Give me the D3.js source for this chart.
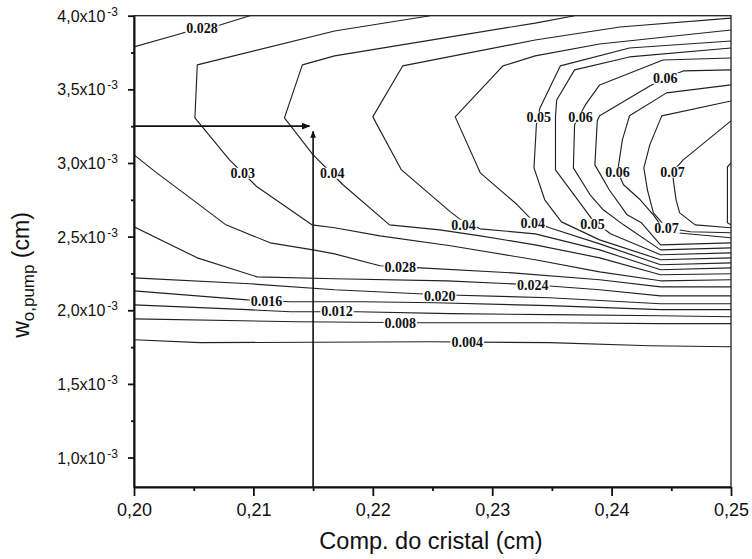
<!DOCTYPE html>
<html><head><meta charset="utf-8">
<script src="https://cdn.jsdelivr.net/npm/d3@7"></script>
<style>body{margin:0;background:#fff}</style>
</head><body>
<svg id="chart" width="752" height="559"></svg>
<script>
// x: crystal length (cm); y: w0,pump in units of 1e-3 cm
const xTicks = [0.20, 0.21, 0.22, 0.23, 0.24, 0.25];
const xTickLabels = ["0,20", "0,21", "0,22", "0,23", "0,24", "0,25"];
const xMinorTicks = [0.205, 0.215, 0.225, 0.235, 0.245];
const yTicks = [1.0, 1.5, 2.0, 2.5, 3.0, 3.5, 4.0];
const yTickLabels = ["1,0", "1,5", "2,0", "2,5", "3,0", "3,5", "4,0"];
const yMinorTicks = [1.25, 1.75, 2.25, 2.75, 3.25, 3.75];

// contour lines, level -> polyline [x, y]
const c004 = [[0.2000,1.800],[0.2055,1.780],[0.2248,1.786],[0.2348,1.780],[0.2432,1.759],[0.2500,1.752]];
const c008 = [[0.2000,1.942],[0.2137,1.922],[0.2240,1.915],[0.2348,1.915],[0.2441,1.909],[0.2500,1.909]];
const c012 = [[0.2000,2.037],[0.2095,2.004],[0.2131,1.990],[0.2187,1.990],[0.2265,1.977],[0.2348,1.970],[0.2441,1.963],[0.2500,1.956]];
const c016 = [[0.2000,2.132],[0.2095,2.071],[0.2131,2.058],[0.2192,2.058],[0.2252,2.051],[0.2348,2.031],[0.2441,2.004],[0.2500,2.004]];
const c020 = [[0.2000,2.220],[0.2097,2.180],[0.2168,2.139],[0.2256,2.105],[0.2348,2.085],[0.2441,2.044],[0.2500,2.044]];
const c024 = [[0.2000,2.567],[0.2053,2.356],[0.2103,2.227],[0.2168,2.214],[0.2262,2.200],[0.2334,2.173],[0.2390,2.139],[0.2441,2.098],[0.2500,2.098]];
const c028a = [[0.2000,3.055],[0.2019,2.933],[0.2047,2.763],[0.2077,2.580],[0.2114,2.458],[0.2150,2.410],[0.2168,2.383],[0.2206,2.302],[0.2240,2.288],[0.2317,2.254],[0.2390,2.207],[0.2441,2.159],[0.2500,2.159]];
const c028b = [[0.2000,3.788],[0.2041,3.883],[0.2072,3.937],[0.2097,4.000]];
const c032 = [[0.2248,4.000],[0.2168,3.896],[0.2053,3.666],[0.2051,3.306],[0.2080,3.021],[0.2103,2.838],[0.2149,2.580],[0.2168,2.560],[0.2206,2.505],[0.2265,2.438],[0.2336,2.343],[0.2390,2.261],[0.2441,2.200],[0.2500,2.207]];
const c036 = [[0.2369,4.000],[0.2336,3.950],[0.2168,3.727],[0.2141,3.666],[0.2126,3.306],[0.2150,3.055],[0.2175,2.852],[0.2214,2.580],[0.2256,2.546],[0.2290,2.505],[0.2336,2.444],[0.2390,2.356],[0.2441,2.241],[0.2500,2.248]];
const c040 = [[0.2500,3.984],[0.2407,3.923],[0.2336,3.835],[0.2225,3.659],[0.2200,3.313],[0.2224,2.953],[0.2265,2.668],[0.2276,2.600],[0.2290,2.553],[0.2336,2.519],[0.2390,2.410],[0.2441,2.275],[0.2500,2.288]];
const c044 = [[0.2500,3.903],[0.2390,3.808],[0.2336,3.727],[0.2309,3.659],[0.2269,3.313],[0.2290,2.933],[0.2321,2.716],[0.2334,2.607],[0.2348,2.560],[0.2390,2.451],[0.2441,2.309],[0.2500,2.322]];
const c048 = [[0.2500,3.828],[0.2415,3.781],[0.2357,3.659],[0.2340,3.374],[0.2337,3.258],[0.2335,2.967],[0.2344,2.750],[0.2358,2.600],[0.2390,2.478],[0.2441,2.343],[0.2500,2.356]];
const c052 = [[0.2500,3.781],[0.2415,3.720],[0.2369,3.632],[0.2354,3.428],[0.2353,3.313],[0.2353,2.953],[0.2376,2.702],[0.2384,2.614],[0.2399,2.519],[0.2441,2.377],[0.2500,2.390]];
const c056 = [[0.2500,3.713],[0.2443,3.699],[0.2390,3.530],[0.2378,3.394],[0.2369,3.260],[0.2368,2.967],[0.2382,2.784],[0.2393,2.682],[0.2410,2.580],[0.2441,2.410],[0.2500,2.424]];
const c060 = [[0.2500,3.632],[0.2460,3.625],[0.2445,3.577],[0.2432,3.523],[0.2390,3.320],[0.2388,3.286],[0.2386,2.987],[0.2398,2.818],[0.2413,2.648],[0.2425,2.594],[0.2441,2.444],[0.2500,2.458]];
const c064 = [[0.2500,3.530],[0.2446,3.476],[0.2415,3.320],[0.2409,3.157],[0.2405,2.940],[0.2410,2.852],[0.2424,2.750],[0.2435,2.648],[0.2445,2.533],[0.2500,2.492]];
const c068 = [[0.2500,3.421],[0.2442,3.320],[0.2432,3.123],[0.2427,2.967],[0.2430,2.818],[0.2435,2.661],[0.2446,2.560],[0.2466,2.533],[0.2500,2.526]];
const c072 = [[0.2500,3.286],[0.2460,3.021],[0.2451,2.940],[0.2452,2.865],[0.2454,2.750],[0.2457,2.661],[0.2470,2.580],[0.2500,2.560]];
const c076 = [[0.2500,3.001],[0.2497,2.973],[0.2497,2.594],[0.2500,2.580]];
const contourLines = [c004, c008, c012, c016, c020, c024, c028a, c028b, c032, c036, c040, c044, c048, c052, c056, c060, c064, c068, c072, c076];

// contour labels: text, x, y
const contourLabels = [
  ["0.028", 0.2057, 3.917], ["0.03", 0.2091, 2.933], ["0.04", 0.2166, 2.933],
  ["0.04", 0.2276, 2.580], ["0.04", 0.2334, 2.594], ["0.05", 0.2339, 3.313],
  ["0.06", 0.2374, 3.313], ["0.06", 0.2445, 3.577], ["0.06", 0.2405, 2.940],
  ["0.07", 0.2451, 2.940], ["0.07", 0.2446, 2.560], ["0.05", 0.2384, 2.587],
  ["0.028", 0.2223, 2.295], ["0.024", 0.2334, 2.173], ["0.020", 0.2256, 2.098],
  ["0.016", 0.2111, 2.064], ["0.012", 0.2170, 1.997], ["0.008", 0.2223, 1.915],
  ["0.004", 0.2279, 1.786]
];

// marked operating point (arrows)
const markX = 0.215, markY = 3.25;
const hArrow = [[0.200, markY], [0.2147, markY]];
const vArrow = [[markX, 0.8], [markX, 3.215]];

const svg = d3.select("#chart");
const x = d3.scaleLinear().domain([0.20, 0.25]).range([134, 731]);
const y = d3.scaleLinear().domain([0.8, 4.0]).range([487, 15.7]);
const line = d3.line().x(d => x(d[0])).y(d => y(d[1]));
const sans = "'Liberation Sans', Arial, sans-serif";

const defs = svg.append("defs");
defs.append("clipPath").attr("id", "clip").append("rect")
  .attr("x", x(0.20)).attr("y", y(4.0)).attr("width", x(0.25) - x(0.20)).attr("height", y(0.8) - y(4.0));
defs.append("marker").attr("id", "arrow").attr("viewBox", "0 0 10 10")
  .attr("refX", 9).attr("refY", 5).attr("markerWidth", 4.5).attr("markerHeight", 4.5)
  .attr("markerUnits", "strokeWidth").attr("orient", "auto")
  .append("path").attr("d", "M0,1 L10,5 L0,9 Z").attr("fill", "#111");

const plot = svg.append("g").attr("clip-path", "url(#clip)");
plot.selectAll("path.c").data(contourLines).join("path")
  .attr("class", "c").attr("d", line)
  .attr("fill", "none").attr("stroke", "#222").attr("stroke-width", 1.15)
  .attr("stroke-linejoin", "round");

// labels with white background
const lab = svg.append("g");
contourLabels.forEach(([t, lx, ly]) => {
  const gg = lab.append("g");
  const r = gg.append("rect").attr("fill", "#fff");
  const tx = gg.append("text")
    .attr("x", x(lx)).attr("y", y(ly)).attr("text-anchor", "middle")
    .attr("dy", "0.35em")
    .attr("font-family", "'Liberation Serif', 'DejaVu Serif', serif")
    .attr("font-weight", "bold").attr("font-size", 14).attr("fill", "#111")
    .text(t);
  const b = tx.node().getBBox();
  r.attr("x", b.x - 1).attr("y", b.y + 2).attr("width", b.width + 2).attr("height", b.height - 4);
});

// arrows
svg.append("path").attr("d", line(hArrow)).attr("stroke", "#111").attr("stroke-width", 1.9)
  .attr("fill", "none").attr("marker-end", "url(#arrow)");
svg.append("path").attr("d", line(vArrow)).attr("stroke", "#111").attr("stroke-width", 1.6)
  .attr("fill", "none").attr("marker-end", "url(#arrow)");

// frame
svg.append("rect").attr("x", x(0.20)).attr("y", y(4.0))
  .attr("width", x(0.25) - x(0.20)).attr("height", y(0.8) - y(4.0))
  .attr("fill", "none").attr("stroke", "#222").attr("stroke-width", 1.3);

// x axis
const xAxis = svg.append("g").attr("transform", `translate(0,${y(0.8)})`)
  .call(d3.axisBottom(x).tickValues(xTicks).tickFormat((d, i) => xTickLabels[i]).tickSize(9).tickSizeOuter(0).tickPadding(7));
xAxis.select(".domain").attr("stroke", "#111").attr("stroke-width", 2);
xAxis.selectAll(".tick line").attr("stroke", "#111").attr("stroke-width", 1.8);
xAxis.selectAll(".tick text").attr("font-family", sans).attr("font-size", 18).attr("fill", "#111");
const xMinor = svg.append("g").attr("transform", `translate(0,${y(0.8)})`)
  .call(d3.axisBottom(x).tickValues(xMinorTicks).tickFormat("").tickSize(4).tickSizeOuter(0));
xMinor.select(".domain").remove();
xMinor.selectAll(".tick line").attr("stroke", "#111").attr("stroke-width", 1.8);

// y axis
const yAxis = svg.append("g").attr("transform", `translate(${x(0.20)},0)`)
  .call(d3.axisLeft(y).tickValues(yTicks).tickFormat("").tickSize(6).tickSizeOuter(0));
yAxis.select(".domain").attr("stroke", "#111").attr("stroke-width", 2);
yAxis.selectAll(".tick line").attr("stroke", "#111").attr("stroke-width", 1.8);
yAxis.selectAll(".tick").each(function(d, i) {
  const t = d3.select(this).append("text").attr("x", -16).attr("dy", "0.35em")
    .attr("text-anchor", "end").attr("fill", "#111")
    .attr("font-family", sans).attr("font-size", 16);
  t.append("tspan").text(yTickLabels[i] + "x10");
  t.append("tspan").attr("font-size", 12).attr("dy", "-0.5em").attr("dx", 2).text("-3");
});
const yMinor = svg.append("g").attr("transform", `translate(${x(0.20)},0)`)
  .call(d3.axisLeft(y).tickValues(yMinorTicks).tickFormat("").tickSize(3).tickSizeOuter(0));
yMinor.select(".domain").remove();
yMinor.selectAll(".tick line").attr("stroke", "#111").attr("stroke-width", 1.8);

// axis titles
svg.append("text").attr("x", 431).attr("y", 549).attr("text-anchor", "middle")
  .attr("font-family", sans).attr("font-size", 23.5).attr("fill", "#111")
  .text("Comp. do cristal (cm)");
const yt = svg.append("text").attr("transform", "translate(29,275) rotate(-90)")
  .attr("text-anchor", "middle").attr("fill", "#111")
  .attr("font-family", sans).attr("font-size", 23);
yt.append("tspan").text("w");
yt.append("tspan").attr("font-size", 17).attr("dy", 5).text("o,pump");
yt.append("tspan").attr("dy", -5).text(" (cm)");
</script>
</body></html>
